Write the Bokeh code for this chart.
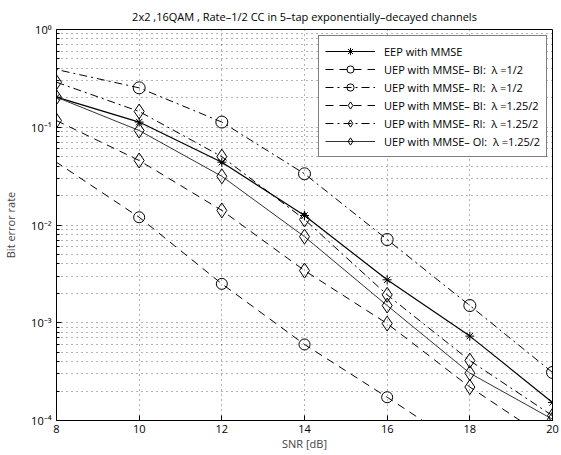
from bokeh.plotting import figure
from bokeh.models import (Range1d, FixedTicker, CustomJSTickFormatter, Legend, LegendItem, Title)
from bokeh.embed import file_html
from bokeh.resources import INLINE

snr = [8, 10, 12, 14, 16, 18, 20]
eep_mmse = [0.203, 0.113, 0.0439, 0.0125, 2.75e-3, 7.3e-4, 1.53e-4]
bi_half_snr = [6, 10, 12, 14, 16, 18]
bi_half = [0.16, 0.012, 2.5e-3, 6.0e-4, 1.73e-4, 4.8e-5]
ri_half_snr = [6, 10, 12, 14, 16, 18, 20]
ri_half = [0.6, 0.253, 0.113, 0.0334, 7.1e-3, 1.5e-3, 3.1e-4]
bi_125 = [0.117, 0.0457, 0.0141, 3.42e-3, 9.8e-4, 2.2e-4, 6.0e-5]
ri_125 = [0.289, 0.145, 0.050, 0.0114, 1.93e-3, 4.1e-4, 1.12e-4]
oi_125 = [0.203, 0.0926, 0.0315, 7.6e-3, 1.5e-3, 3.05e-4, 1.03e-4]

x_ticks = [8, 10, 12, 14, 16, 18, 20]
y_ticks = [1e-4, 1e-3, 1e-2, 1e-1, 1.0]
y_minor = [m * 10.0 ** e for e in range(-4, 0) for m in range(2, 10)]
title_text = "2x2 ,16QAM , Rate\u20131/2 CC in 5\u2013tap exponentially\u2013decayed channels"

FONT = "Open Sans"

p = figure(width=561, height=455, output_backend="svg", toolbar_location=None,
           y_axis_type="log", x_range=Range1d(8, 20), y_range=Range1d(1e-4, 1.0),
           min_border_left=54, min_border_right=9, min_border_top=29, min_border_bottom=35)
p.title = Title(text=title_text, align="center", standoff=11,
                text_font=FONT, text_font_size="11px", text_font_style="normal",
                text_color="black")
p.outline_line_color = "black"
p.outline_line_width = 1
p.background_fill_color = "white"
p.border_fill_color = "white"

p.xaxis.ticker = FixedTicker(ticks=x_ticks)
p.yaxis.ticker = FixedTicker(ticks=y_ticks, minor_ticks=y_minor)
p.yaxis.formatter = CustomJSTickFormatter(code="""
const e = Math.round(Math.log10(tick));
const sup = {'0':'\u2070','1':'\u00b9','2':'\u00b2','3':'\u00b3','4':'\u2074','-':'\u207b'};
return '10' + String(e).split('').map(c => sup[c]).join('');
""")
for ax in (p.xaxis, p.yaxis):
    ax.major_tick_in = 5
    ax.major_tick_out = 0
    ax.minor_tick_in = 3
    ax.minor_tick_out = 0
    ax.axis_line_color = "black"
    ax.major_label_text_font = FONT
    ax.major_label_text_font_size = "11px"
    ax.major_label_text_color = "black"
    ax.axis_label_text_font = FONT
    ax.axis_label_text_font_size = "11px"
    ax.axis_label_text_font_style = "normal"
p.xaxis.major_label_standoff = 4
p.yaxis.major_label_standoff = 5
p.xaxis.axis_label = "SNR [dB]"
p.yaxis.axis_label = "Bit error rate"
p.xaxis.axis_label_standoff = 0
p.yaxis.axis_label_standoff = 10

p.xgrid.grid_line_color = "black"
p.xgrid.grid_line_dash = "1 4"
p.xgrid.grid_line_alpha = 0.6
p.ygrid.grid_line_color = "black"
p.ygrid.grid_line_dash = "1 4"
p.ygrid.grid_line_alpha = 0.6
p.ygrid.minor_grid_line_color = "black"
p.ygrid.minor_grid_line_dash = "1 4"
p.ygrid.minor_grid_line_alpha = 0.6

DASH = "8 6"
DASHDOT = "8 4 2 4"

def series(xs, ys, dash, marker, size, color="black", lw=1.0):
    r1 = p.line(xs, ys, line_color=color, line_width=lw, line_dash=dash)
    mx = [x for x in xs if x >= 8]
    my = [y for x, y in zip(xs, ys) if x >= 8]
    r2 = p.scatter(mx, my, marker=marker, size=size, line_color="black", line_width=1,
                   fill_alpha=0)
    return [r1, r2]

items = []
items.append(LegendItem(label="EEP with MMSE",
                        renderers=series(snr, eep_mmse, "solid", "asterisk", 9, lw=1.2)))
items.append(LegendItem(label="UEP with MMSE\u2013 BI:  \u03bb =1/2",
                        renderers=series(bi_half_snr, bi_half, DASH, "circle", 11)))
items.append(LegendItem(label="UEP with MMSE\u2013 RI:  \u03bb =1/2",
                        renderers=series(ri_half_snr, ri_half, DASHDOT, "circle", 12)))
items.append(LegendItem(label="UEP with MMSE\u2013 BI:  \u03bb =1.25/2",
                        renderers=series(snr, bi_125, DASH, "diamond", 15)))
items.append(LegendItem(label="UEP with MMSE\u2013 RI:  \u03bb =1.25/2",
                        renderers=series(snr, ri_125, DASHDOT, "diamond", 15)))
items.append(LegendItem(label="UEP with MMSE\u2013 OI:  \u03bb =1.25/2",
                        renderers=series(snr, oi_125, "solid", "diamond", 15, color="#333333", lw=1.0)))

legend = Legend(items=items, location=(262, 263))
legend.border_line_color = "black"
legend.border_line_width = 1
legend.background_fill_color = "white"
legend.background_fill_alpha = 1
legend.label_text_font = FONT
legend.label_text_font_size = "11px"
legend.label_text_color = "black"
legend.padding = 6
legend.spacing = 0
legend.margin = 0
legend.label_height = 18
legend.glyph_height = 18
legend.glyph_width = 50
legend.label_standoff = 9
p.add_layout(legend, "center")

open("out.html", "w").write(file_html(p, INLINE))
